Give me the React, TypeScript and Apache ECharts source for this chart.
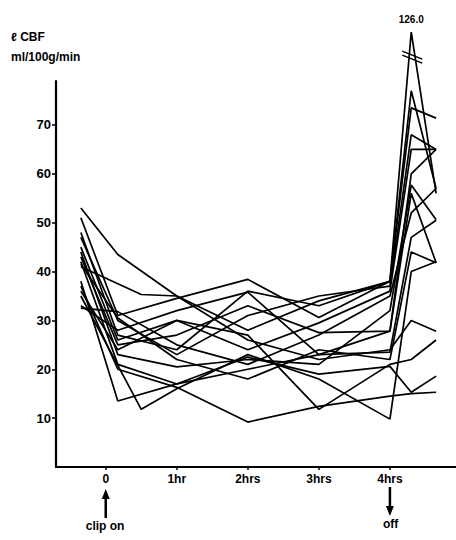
import React, { useEffect, useRef } from "react";
import * as echarts from "echarts";

// Sampling times (hours relative to clip on)
const TIMES = [-0.35, 0.17, 0.5, 1, 2, 3, 4, 4.3, 4.65];
const X_TICKS = [0, 1, 2, 3, 4];
const X_TICK_LABELS = ["0", "1hr", "2hrs", "3hrs", "4hrs"];
const Y_TICKS = [10, 20, 30, 40, 50, 60, 70];

const PEAK_TRUE = 126.0; // true value of the off-scale peak
const PEAK_DRAWN = 89; // where the broken scale places it

// CBF values (ml/100g/min) per animal at TIMES; null = not sampled
const s01 = [53, 43.5, null, 35, 28, 34, 38, PEAK_DRAWN, 56];
const s02 = [51, 31, null, 34.5, 38.4, 30.6, 38, 77, 57];
const s03 = [48, 27, null, 24, 36, 33, 38, 73.5, 71.4];
const s04 = [47, 30, null, 23, 31, 35, 37, 68, 65];
const s05 = [45, 26, null, 30, 24, 29.5, 36, 65, 65];
const s06 = [44, 23, null, 20.5, 22, 21, 32, 57.7, 50.6];
const s07 = [43, 25, null, 27, 33, 27.5, 27.8, 56, 41.8];
const s08 = [42, 21, null, 17, 20, 23, 23.5, 47, 50.5];
const s09 = [41.5, 30.5, null, 22, 18, 24, 22, 44, 41.8];
const s10 = [41, null, 35.3, 35, 26, 22, 24, 30, 27.8];
const s11 = [38, 13.5, null, 17, 22.5, 19, 20.6, 15.3, 18.6];
const s12 = [37, 20, null, 16.3, 9.2, 12.4, 14.5, 15, 15.3];
const s13 = [36, 24, null, 30, 27, 11.8, 21, 22, 26];
const s14 = [35, null, 11.8, 16, 23, 18, 9.8, 40, 42];
const s15 = [33, 28, null, 32, 35.8, 23, 27.8, 60, 65];
const s16 = [32.5, 31.8, null, 25, 21, 27, 35, 52, 57];

const SUBJECTS = [s01, s02, s03, s04, s05, s06, s07, s08, s09, s10, s11, s12, s13, s14, s15, s16];

const FONT = "Liberation Sans, Arial, sans-serif";

export default function App() {
  const ref = useRef<HTMLDivElement>(null);

  useEffect(() => {
    if (!ref.current) return;
    const chart = echarts.init(ref.current, null, { renderer: "svg" });
    const peakIdx = s01.indexOf(PEAK_DRAWN);

    const series = SUBJECTS.map((vals) => ({
      type: "line",
      symbol: "none",
      silent: true,
      clip: false,
      lineStyle: { color: "#000", width: 1.7 },
      data: TIMES.map((t, i) => (vals[i] == null ? null : [t, vals[i]])).filter((d) => d !== null),
    }));

    chart.setOption({
      animation: false,
      backgroundColor: "#fff",
      grid: { left: 56, right: 0, top: 81, bottom: 73, containLabel: false, outerBoundsMode: "none" },
      xAxis: {
        type: "value",
        min: -0.7,
        max: 4.93,
        splitLine: { show: false },
        axisLine: { show: true, onZero: false, lineStyle: { color: "#000", width: 2 } },
        axisTick: { show: true, customValues: X_TICKS, length: 3, lineStyle: { color: "#000", width: 1.5 } },
        axisLabel: {
          customValues: X_TICKS,
          formatter: (v: number) => X_TICK_LABELS[X_TICKS.indexOf(Math.round(v))] ?? "",
          color: "#000",
          fontFamily: FONT,
          fontWeight: "bold",
          fontSize: 12,
          margin: 6,
        },
      },
      yAxis: {
        type: "value",
        min: 0,
        max: 79,
        interval: 10,
        splitLine: { show: false },
        axisLine: { show: true, onZero: false, lineStyle: { color: "#000", width: 2.2 } },
        axisTick: { show: true, customValues: Y_TICKS, length: 4, lineStyle: { color: "#000", width: 1.5 } },
        axisLabel: {
          customValues: Y_TICKS,
          color: "#000",
          fontFamily: FONT,
          fontWeight: "bold",
          fontSize: 13,
          margin: 5,
        },
      },
      series,
    });

    // axis-break marks and value label on the off-scale peak, placed via the chart's scales
    const p = chart.convertToPixel({ gridIndex: 0 }, [TIMES[peakIdx], PEAK_DRAWN]) as number[];
    const px = p[0];
    const py = p[1];

    const arrowX0 = (chart.convertToPixel({ gridIndex: 0 }, [0, 0]) as number[])[0];
    const arrowX4 = (chart.convertToPixel({ gridIndex: 0 }, [4, 0]) as number[])[0];

    const textStyle = { fill: "#000", fontFamily: FONT, fontWeight: "bold", fontSize: 12 };

    chart.setOption({
      graphic: [
        { type: "line", shape: { x1: px - 9, y1: py + 19, x2: px + 11, y2: py + 27 }, style: { stroke: "#000", lineWidth: 1.5 } },
        { type: "line", shape: { x1: px - 9, y1: py + 23, x2: px + 11, y2: py + 31 }, style: { stroke: "#000", lineWidth: 1.5 } },
        {
          type: "text",
          x: px,
          y: py - 8,
          style: { ...textStyle, fontSize: 10, text: PEAK_TRUE.toFixed(1), align: "center", verticalAlign: "bottom" },
        },
        { type: "text", left: 11, top: 31, style: { ...textStyle, text: "ℓ CBF" } },
        { type: "text", left: 11, top: 51, style: { ...textStyle, text: "ml/100g/min" } },
        // clip on arrow
        { type: "line", shape: { x1: arrowX0, y1: 518, x2: arrowX0, y2: 496 }, style: { stroke: "#000", lineWidth: 2.5 } },
        { type: "polygon", shape: { points: [[arrowX0 - 4, 499], [arrowX0 + 4, 499], [arrowX0, 489]] }, style: { fill: "#000" } },
        { type: "text", x: arrowX0 - 20, y: 520, style: { ...textStyle, text: "clip on" } },
        // off arrow
        { type: "line", shape: { x1: arrowX4, y1: 487, x2: arrowX4, y2: 508 }, style: { stroke: "#000", lineWidth: 2.5 } },
        { type: "polygon", shape: { points: [[arrowX4 - 4, 506], [arrowX4 + 4, 506], [arrowX4, 516]] }, style: { fill: "#000" } },
        { type: "text", x: arrowX4 - 7, y: 518, style: { ...textStyle, text: "off" } },
      ],
    });

    return () => chart.dispose();
  }, []);

  return (
    <div
      ref={ref}
      style={{ position: "fixed", left: 0, top: 0, width: 456, height: 540, background: "#fff" }}
    />
  );
}
